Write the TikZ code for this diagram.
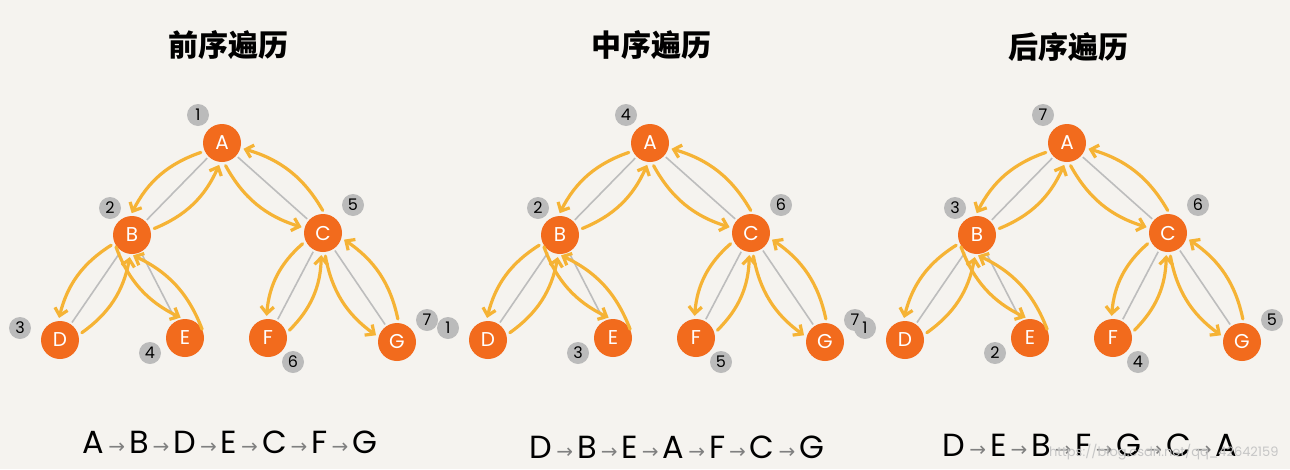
\documentclass[tikz,border=0pt]{standalone}
\usepackage{fontspec}
\setmainfont{Poppins}
\newfontfamily\cjk{Noto Sans CJK SC}
\newfontfamily\dv{DejaVu Sans}
\usetikzlibrary{arrows.meta}
\definecolor{bg}{HTML}{F5F3EF}
\definecolor{nodeor}{HTML}{F26B1D}
\definecolor{arr}{HTML}{F5B335}
\definecolor{edg}{HTML}{BDBDBD}
\definecolor{badge}{HTML}{BBBBBB}
\tikzset{
  tn/.style={circle,fill=nodeor,minimum size=38pt,inner sep=0pt,text=white,font=\fontsize{20}{20}\selectfont},
  bdg/.style={circle,fill=badge,minimum size=22pt,inner sep=0pt,font=\fontsize{16}{16}\selectfont},
  edge/.style={edg,line width=1.6pt,shorten <=2pt,shorten >=2pt},
  yarr/.style={arr,line width=3.2pt,line cap=round,-{Straight Barb[length=7pt,width=13pt]},shorten <=4pt,shorten >=3pt},
  ttl/.style={font=\cjk\bfseries\fontsize{30}{30}\selectfont},
  seq/.style={font=\fontsize{32}{32}\selectfont,anchor=center}
}
\newcommand{\sa}{{\hspace{4pt}\dv\color{gray}\fontsize{20}{20}\selectfont→\hspace{4pt}}}
\newcommand{\ltree}[9]{%
 \begin{scope}[xshift=#2]
 \node[tn] (#1A) at (222,143) {A};
 \node[tn] (#1B) at (132,235) {B};
 \node[tn] (#1C) at (323,233) {C};
 \node[tn] (#1D) at (60,340) {D};
 \node[tn] (#1E) at (185,338) {E};
 \node[tn] (#1F) at (268,338) {F};
 \node[tn] (#1G) at (397,342) {G};
 \foreach \p/\q in {A/B,A/C,B/D,B/E,C/F,C/G}{\draw[edge] (#1\p) -- (#1\q);}
 \foreach \p/\q in {A/B,B/D,B/E,C/F}{
   \draw[yarr] (#1\p.205) to[bend right=22] (#1\q.95);
   \draw[yarr] (#1\q.15) to[bend right=22] (#1\p.265);}
 \foreach \p/\q in {A/C,C/G}{
   \draw[yarr] (#1\p.275) to[bend right=22] (#1\q.165);
   \draw[yarr] (#1\q.85) to[bend right=22] (#1\p.345);}
 \node[bdg] (#1nA) at (198,115) {#3};
 \node[bdg] (#1nB) at (110,208) {#4};
 \node[bdg] (#1nC) at (353,205) {#5};
 \node[bdg] (#1nD) at (20,328) {#6};
 \node[bdg] (#1nE) at (150,353) {#7};
 \node[bdg] (#1nF) at (293,362) {#8};
 \node[bdg] (#1nG) at (427,320) {#9};
 \end{scope}}
\begin{document}
\begin{tikzpicture}[x=1pt,y=-1pt]
\fill[bg] (0,0) rectangle (1290,469);
\useasboundingbox (0,0) rectangle (1290,469);
\node[ttl] (t1) at (228,45) {前序遍历};
\node[ttl] (t2) at (651,45) {中序遍历};
\node[ttl] (t3) at (1068,47) {后序遍历};
\ltree{a}{0pt}{1}{2}{5}{3}{4}{6}{7}
\ltree{b}{428pt}{4}{2}{6}{1}{3}{5}{7}
\ltree{c}{845pt}{7}{3}{6}{1}{2}{4}{5}
\node[seq] (s1) at (230,442) {A\sa B\sa D\sa E\sa C\sa F\sa G};
\node[seq] (s2) at (677,447) {D\sa B\sa E\sa A\sa F\sa C\sa G};
\node[seq] (s3) at (1090,445) {D\sa E\sa B\sa F\sa G\sa C\sa A};
\node[font=\fontsize{13}{13}\selectfont,text=gray!45,anchor=east] (wm) at (1282,452) {https://blog.csdn.net/qq\_42642159};
\end{tikzpicture}
\end{document}
